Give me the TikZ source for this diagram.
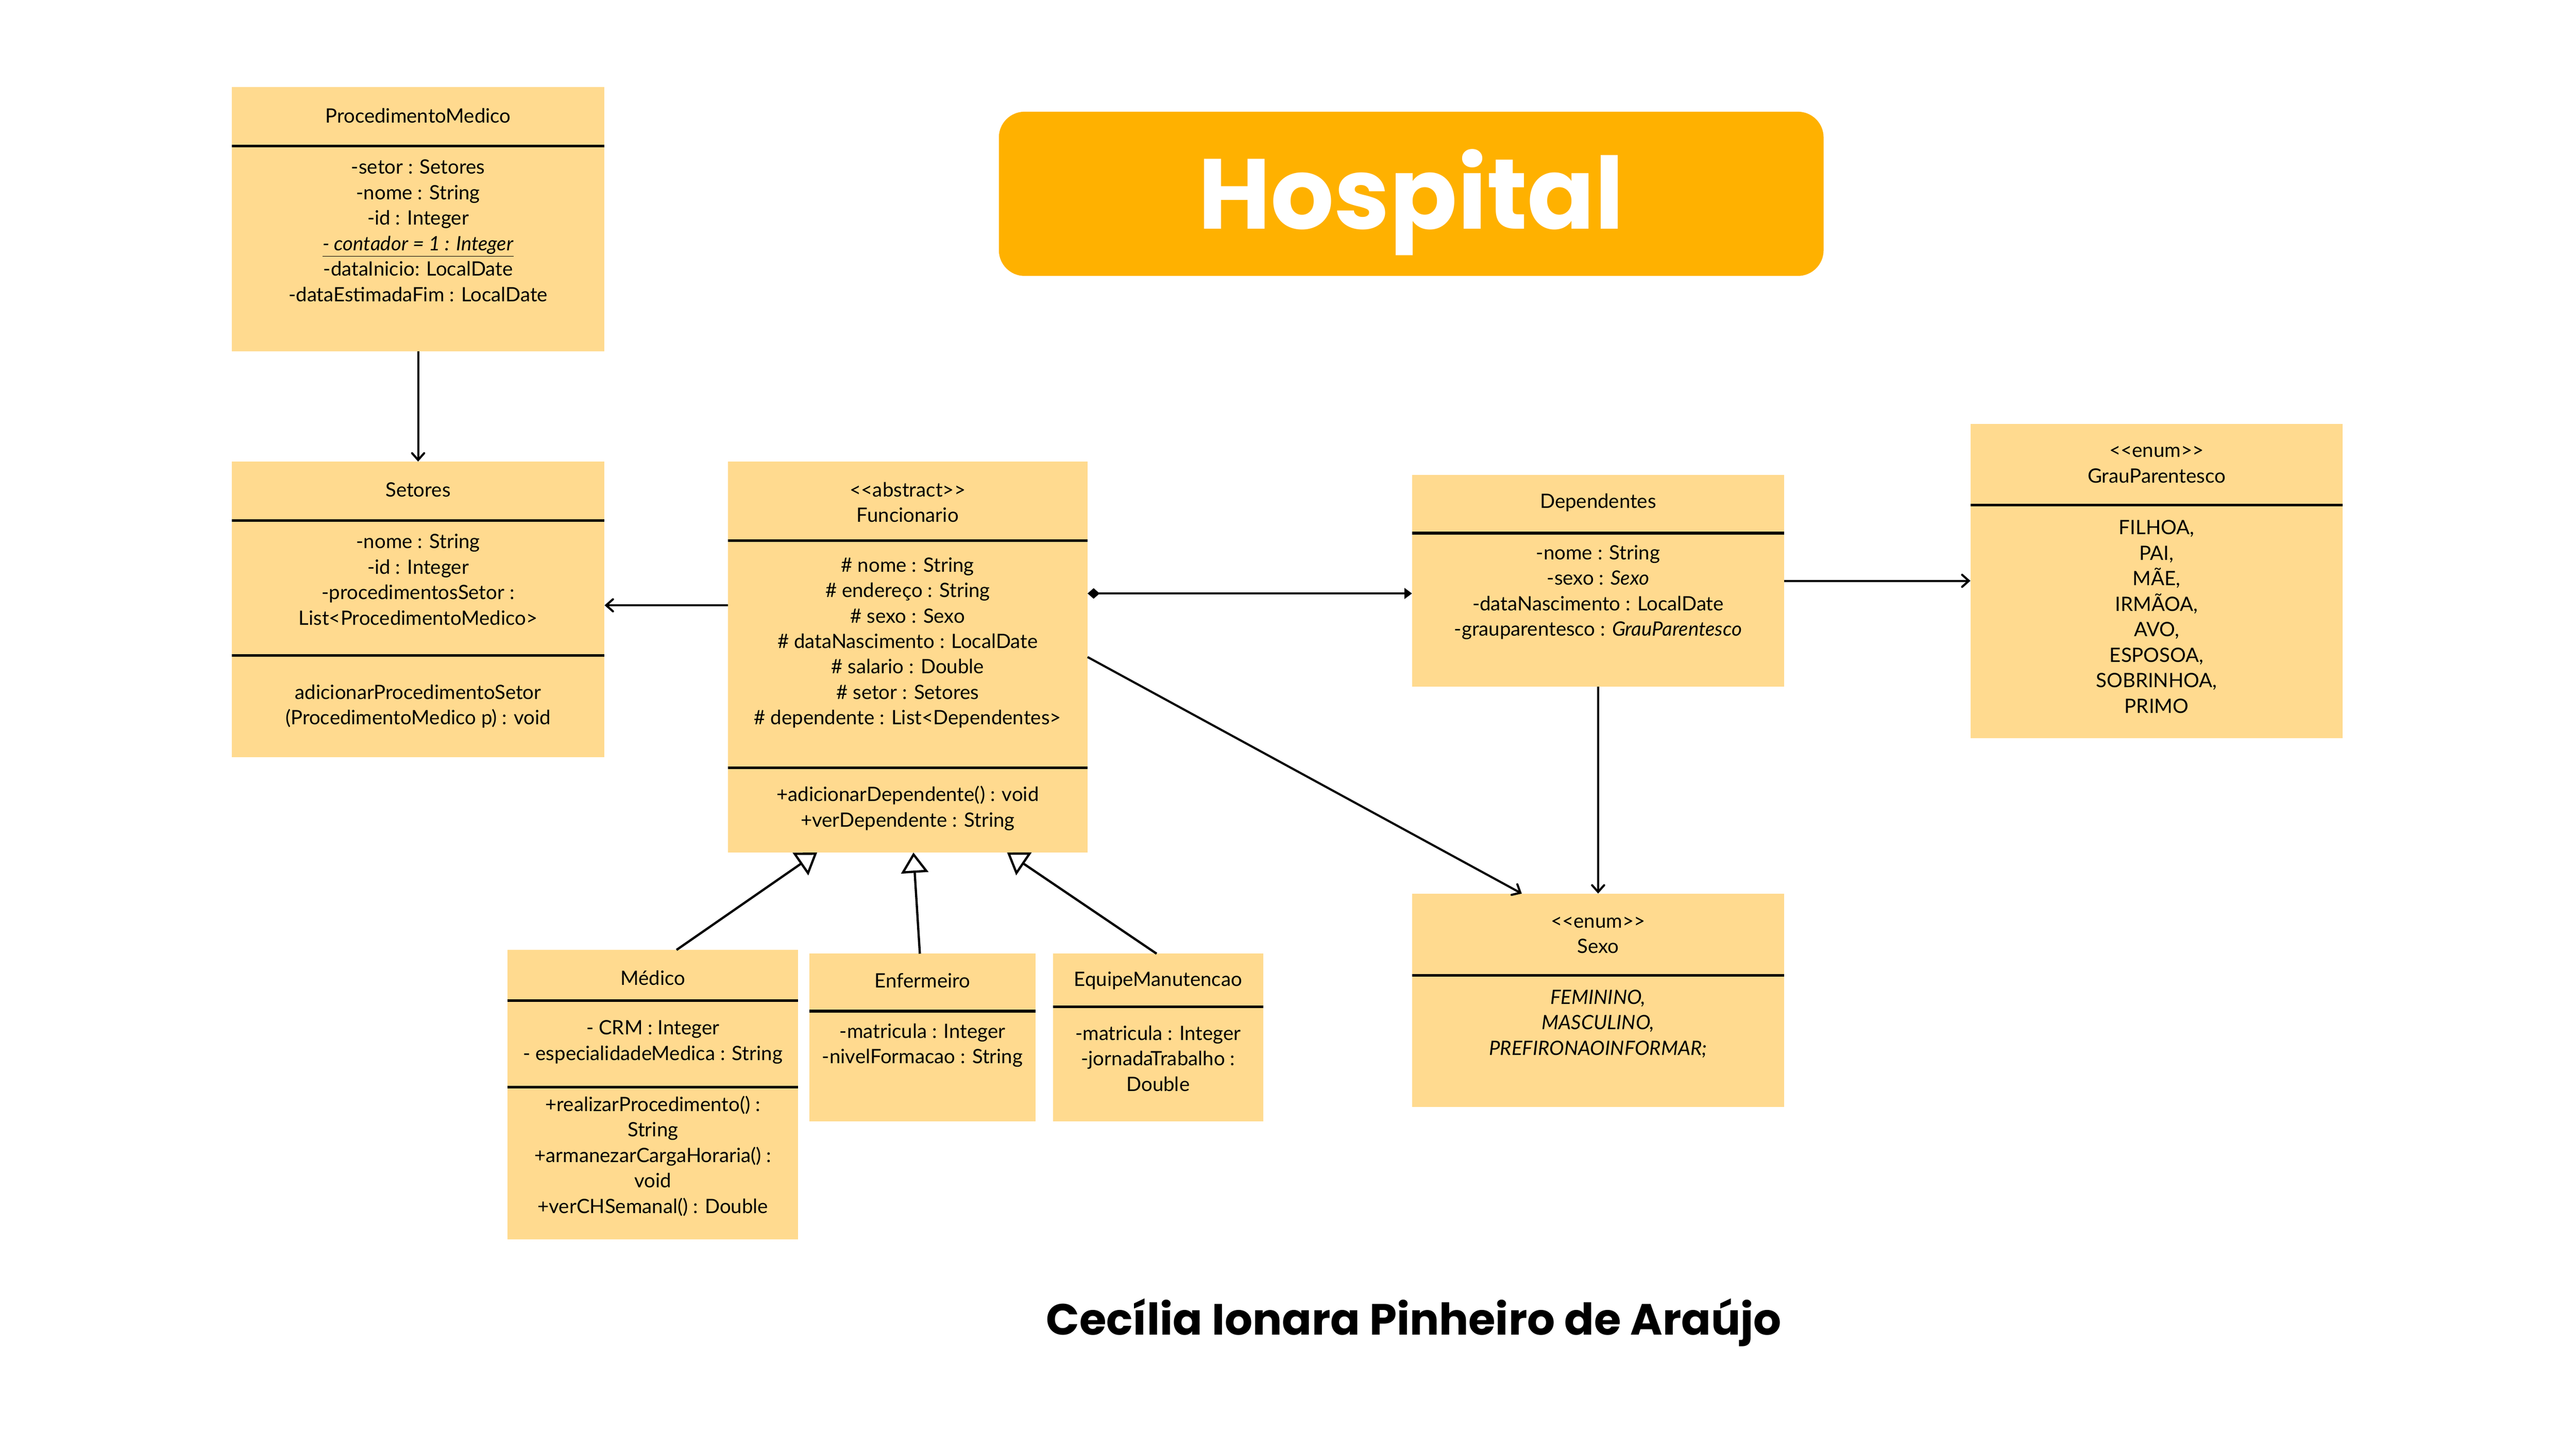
\documentclass[tikz,border=0pt]{standalone}
\usepackage{fontspec}
\setmainfont{Lato}
\newfontfamily\titlefont{Poppins}
\usetikzlibrary{arrows.meta,fit}
\definecolor{boxfill}{HTML}{FFDA8F}
\definecolor{titlefill}{HTML}{FFB100}
\begin{document}
\begin{tikzpicture}[x=0.038265cm,y=-0.038265cm,
  cls/.style={fill=boxfill, draw=none, inner sep=0pt, outer sep=0pt},
  sepline/.style={line width=1.8pt},
  txt/.style={align=center, font=\fontsize{13.1}{16.9}\selectfont, inner sep=0pt},
  conn/.style={line width=1.4pt, -{Straight Barb[length=4.5pt,width=8pt,line cap=round]}},
  inh/.style={line width=1.5pt, -{Triangle[open,fill=white,length=13.5pt,width=18pt]}}]
\useasboundingbox (0,0) rectangle (1568,882);
\fill[white] (0,0) rectangle (1568,882);

% title
\node[fill=titlefill, rounded corners=0.6cm, inner sep=0pt, fit={(608,68) (1110,168)}] (title) {};
\node[anchor=base, text=white, inner sep=0pt, font=\titlefont\bfseries\fontsize{66}{66}\selectfont] (titleT) at (859,139.3) {Hospital};

% author
\node[anchor=base, inner sep=0pt, font=\titlefont\bfseries\fontsize{29}{29}\selectfont] (author) at (860.5,812.8) {Cecília Ionara Pinheiro de Araújo};

% ProcedimentoMedico
\node[cls, fit={(141,53) (368,214)}] (pm) {};
\draw[sepline] (141,89) -- (368,89);
\node[txt] (pmT) at (254.5,70.5) {ProcedimentoMedico};
\node[txt] (pmA) at (254.5,140.4) {-setor : Setores\\ -nome : String\\ -id : Integer\\ \underline{\textit{- contador = 1 : Integer}}\\ -dataInicio: LocalDate\\ -dataEstimadaFim : LocalDate};

% Setores
\node[cls, fit={(141,281) (368,461)}] (setores) {};
\draw[sepline] (141,316.8) -- (368,316.8);
\draw[sepline] (141,399.1) -- (368,399.1);
\node[txt] (setT) at (254.5,298.2) {Setores};
\node[txt] (setA) at (254.5,352.8) {-nome : String\\ -id : Integer\\ -procedimentosSetor :\\ List<ProcedimentoMedico>};
\node[txt] (setM) at (254.5,430) {adicionarProcedimentoSetor\\ (ProcedimentoMedico p) : void};

% Funcionario
\node[cls, fit={(443,281) (662,519)}] (func) {};
\draw[sepline] (443,329.2) -- (662,329.2);
\draw[sepline] (443,467.4) -- (662,467.4);
\node[txt] (funT) at (552.5,305.8) {<{}<abstract>{}>\\ Funcionario};
\node[txt] (funA) at (552.5,391.3) {\# nome : String\\ \# endereço : String\\ \# sexo : Sexo\\ \# dataNascimento : LocalDate\\ \# salario : Double\\ \# setor : Setores\\ \# dependente : List<Dependentes>};
\node[txt] (funM) at (552.5,492) {+adicionarDependente() : void\\ +verDependente : String};

% Dependentes
\node[cls, fit={(859.5,289) (1086,418)}] (dep) {};
\draw[sepline] (859.5,324.6) -- (1086,324.6);
\node[txt] (depT) at (972.75,306) {Dependentes};
\node[txt] (depA) at (972.75,360.6) {-nome : String\\ -sexo : \textit{Sexo}\\ -dataNascimento : LocalDate\\ -grauparentesco : \textit{GrauParentesco}};

% GrauParentesco
\node[cls, fit={(1199.4,258) (1426,449.5)}] (grau) {};
\draw[sepline] (1199.4,307.5) -- (1426,307.5);
\node[txt] (grauT) at (1312.7,282.8) {<{}<enum>{}>\\ GrauParentesco};
\node[txt] (grauA) at (1312.7,375.4) {FILHOA,\\ PAI,\\ MÃE,\\ IRMÃOA,\\ AVO,\\ ESPOSOA,\\ SOBRINHOA,\\ PRIMO};

% Sexo
\node[cls, fit={(859.5,544) (1086,674)}] (sexo) {};
\draw[sepline] (859.5,593.9) -- (1086,593.9);
\node[txt] (sexoT) at (972.75,569.4) {<{}<enum>{}>\\ Sexo};
\node[txt, font=\fontsize{13.1}{16.9}\selectfont\itshape] (sexoA) at (972.75,623.3) {FEMININO,\\ MASCULINO,\\ PREFIRONAOINFORMAR;};

% Medico
\node[cls, fit={(308.8,578.3) (485.9,754.4)}] (medico) {};
\draw[sepline] (308.8,609.2) -- (485.9,609.2);
\draw[sepline] (308.8,661.8) -- (485.9,661.8);
\node[txt] (medT) at (397.4,595.5) {Médico};
\node[txt] (medA) at (397.4,634.5) {- CRM : Integer\\ - especialidadeMedica : String};
\node[txt] (medM) at (397.4,703.7) {+realizarProcedimento() :\\ String\\ +armanezarCargaHoraria() :\\ void\\ +verCHSemanal() : Double};

% Enfermeiro
\node[cls, fit={(492.6,580.6) (630.3,682.6)}] (enf) {};
\draw[sepline] (492.6,615.6) -- (630.3,615.6);
\node[txt] (enfT) at (561.5,597.1) {Enfermeiro};
\node[txt] (enfA) at (561.5,636.4) {-matricula : Integer\\ -nivelFormacao : String};

% EquipeManutencao
\node[cls, fit={(640.9,580.6) (768.9,682.6)}] (equipe) {};
\draw[sepline] (640.9,613) -- (768.9,613);
\node[txt] (eqT) at (704.9,597.1) {EquipeManutencao};
\node[txt] (eqA) at (704.9,644.3) {-matricula : Integer\\ -jornadaTrabalho :\\ Double};

% connectors
\draw[conn] (pm.south) -- (setores.north);
\draw[conn] (func.west |- 0,368.5) -- (setores.east |- 0,368.5);
\draw[line width=1.6pt, {Diamond[length=8pt,width=7pt]}-{Triangle[length=5pt,width=7pt]}] (func.east |- 0,361.3) -- (dep.west |- 0,361.3);
\draw[conn] (dep.east |- 0,353.6) -- (grau.west |- 0,353.6);
\draw[conn] (dep.south) -- (sexo.north);
\draw[conn] (func.east |- 0,400) -- (sexo.north -| 926.3,0);
\draw[inh] (medico.north -| 411.8,0) -- (func.south -| 497.4,0);
\draw[inh] (enf.north -| 559.9,0) -- (func.south -| 556,0);
\draw[inh] (equipe.north -| 704,0) -- (func.south -| 613,0);
\end{tikzpicture}
\end{document}
